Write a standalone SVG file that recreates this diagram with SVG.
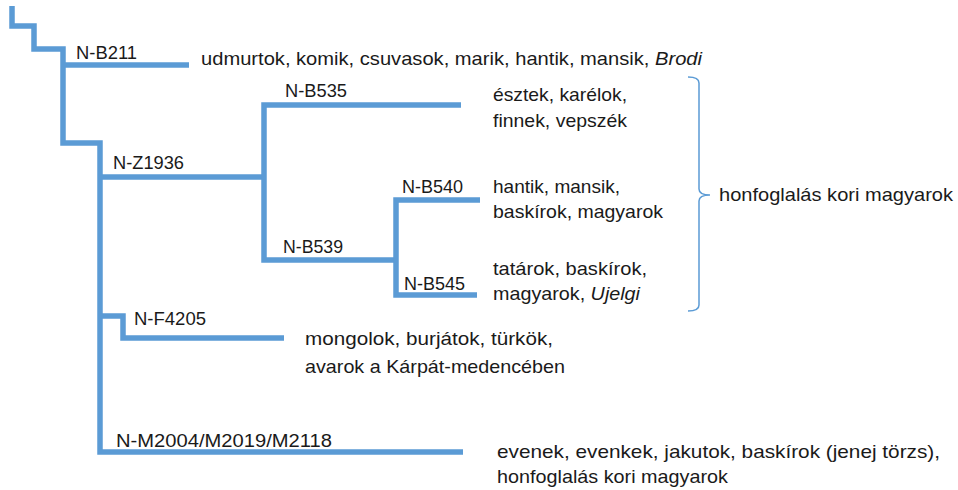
<svg xmlns="http://www.w3.org/2000/svg" width="958" height="490" viewBox="0 0 958 490">
<style>
.ln{fill:none;stroke:#5B9BD5;stroke-width:5.5;stroke-linejoin:miter;stroke-linecap:butt}
.br{fill:none;stroke:#5B9BD5;stroke-width:1.5}
text{font-family:"Liberation Sans",Arial,sans-serif;fill:#1a1a1a}
.lb{font-size:18px}
.tx{font-size:19px}
.it{font-style:italic}
</style>
<rect width="958" height="490" fill="#ffffff"/>
<g id="connectors">
<path class="ln" d="M12,6 V26 H34 V49 H63 V143 H100 V452 H463"/>
<path class="ln" d="M63,65 H189"/>
<path class="ln" d="M100,177 H264"/>
<path class="ln" d="M461,105 H264 V260 H396"/>
<path class="ln" d="M480,200 H396 V295 H477"/>
<path class="ln" d="M100,316 H123 V338 H284"/>
<path class="br" d="M688,77 Q699,77 699,83 V189 Q699,195 710,195 Q699,195 699,201 V305 Q699,311 688,311"/>
</g>
<g id="n-b211">
<text class="lb" x="76" y="59" textLength="61" lengthAdjust="spacingAndGlyphs">N-B211</text>
<text class="tx" x="201" y="65" textLength="501" lengthAdjust="spacingAndGlyphs">udmurtok, komik, csuvasok, marik, hantik, mansik, <tspan class="it">Brodi</tspan></text>
</g>
<g id="n-z1936">
<text class="lb" x="113" y="169" textLength="71" lengthAdjust="spacingAndGlyphs">N-Z1936</text>
</g>
<g id="n-b535">
<text class="lb" x="285" y="97" textLength="62" lengthAdjust="spacingAndGlyphs">N-B535</text>
<text class="tx" x="493" y="101" textLength="134" lengthAdjust="spacingAndGlyphs">észtek, karélok,</text>
<text class="tx" x="493" y="127" textLength="134" lengthAdjust="spacingAndGlyphs">finnek, vepszék</text>
</g>
<g id="n-b539">
<text class="lb" x="283" y="253" textLength="60" lengthAdjust="spacingAndGlyphs">N-B539</text>
</g>
<g id="n-b540">
<text class="lb" x="402" y="193" textLength="61" lengthAdjust="spacingAndGlyphs">N-B540</text>
<text class="tx" x="493" y="193" textLength="127" lengthAdjust="spacingAndGlyphs">hantik, mansik,</text>
<text class="tx" x="493" y="218" textLength="170" lengthAdjust="spacingAndGlyphs">baskírok, magyarok</text>
</g>
<g id="n-b545">
<text class="lb" x="404" y="290" textLength="61" lengthAdjust="spacingAndGlyphs">N-B545</text>
<text class="tx" x="493" y="275" textLength="154" lengthAdjust="spacingAndGlyphs">tatárok, baskírok,</text>
<text class="tx" x="493" y="300" textLength="147" lengthAdjust="spacingAndGlyphs">magyarok, <tspan class="it">Ujelgi</tspan></text>
</g>
<g id="brace-label">
<text class="tx" x="719" y="201" textLength="234" lengthAdjust="spacingAndGlyphs">honfoglalás kori magyarok</text>
</g>
<g id="n-f4205">
<text class="lb" x="134" y="325" textLength="72" lengthAdjust="spacingAndGlyphs">N-F4205</text>
<text class="tx" x="305" y="345" textLength="248" lengthAdjust="spacingAndGlyphs">mongolok, burjátok, türkök,</text>
<text class="tx" x="305" y="373" textLength="260" lengthAdjust="spacingAndGlyphs">avarok a Kárpát-medencében</text>
</g>
<g id="n-m2004">
<text class="lb" x="116" y="447" textLength="216" lengthAdjust="spacingAndGlyphs">N-M2004/M2019/M2118</text>
<text class="tx" x="497" y="458" textLength="443" lengthAdjust="spacingAndGlyphs">evenek, evenkek, jakutok, baskírok (jenej törzs),</text>
<text class="tx" x="497" y="483" textLength="231" lengthAdjust="spacingAndGlyphs">honfoglalás kori magyarok</text>
</g>
</svg>
